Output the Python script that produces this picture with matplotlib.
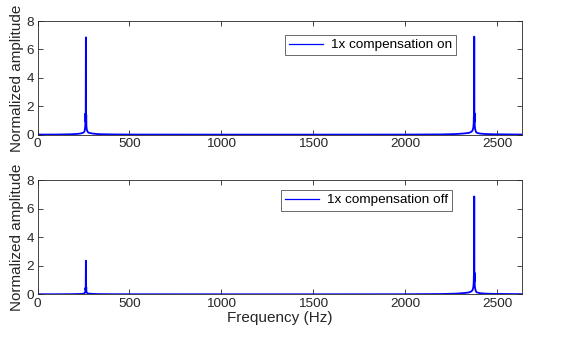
import matplotlib
matplotlib.use("Agg")
import matplotlib.pyplot as plt

plt.rcParams['font.family'] = ['Liberation Sans', 'DejaVu Sans']

# Frequency samples (Hz)
freq_hz = [0, 100, 180, 220, 240, 250, 255, 258, 260, 261, 262, 263, 264, 265, 266, 268,
           271, 276, 285, 300, 330, 400, 500, 1000, 1500, 2000, 2200, 2280, 2320, 2345,
           2358, 2365, 2369, 2371, 2372, 2373, 2374, 2375, 2376, 2377, 2379, 2382, 2386,
           2392, 2405, 2430, 2480, 2550, 2632]

# Normalized amplitude, compensation on
amp_on = [0.01, 0.01, 0.03, 0.06, 0.1, 0.15, 0.22, 0.4, 0.7, 1.5, 0.9, 6.85, 1.1, 1.4, 0.6, 0.35,
          0.25, 0.15, 0.12, 0.08, 0.04, 0.02, 0.01, 0.005, 0.005, 0.008, 0.02, 0.05, 0.09, 0.13,
          0.2, 0.3, 0.5, 0.8, 1.3, 0.7, 6.9, 0.9, 1.5, 0.6, 0.4, 0.25, 0.15,
          0.12, 0.08, 0.05, 0.03, 0.02, 0.01]

# Normalized amplitude, compensation off
amp_off = [0.005, 0.005, 0.01, 0.02, 0.03, 0.05, 0.07, 0.12, 0.2, 0.45, 0.3, 2.35, 0.35, 0.5, 0.2, 0.12,
           0.08, 0.05, 0.04, 0.03, 0.015, 0.008, 0.005, 0.003, 0.003, 0.006, 0.02, 0.05, 0.09, 0.13,
           0.2, 0.3, 0.5, 0.8, 1.3, 0.7, 6.85, 0.9, 1.5, 0.6, 0.4, 0.25, 0.15,
           0.12, 0.08, 0.05, 0.03, 0.02, 0.01]

xticks = [0, 500, 1000, 1500, 2000, 2500]
yticks = [0, 2, 4, 6, 8]

W, H = 563, 338
fig = plt.figure(figsize=(W / 100, H / 100), dpi=100)

def rect(l, t, r, b):
    return [l / W, 1 - b / H, (r - l) / W, (b - t) / H]

ax1 = fig.add_axes(rect(37.5, 21, 521.7, 134.7))
ax2 = fig.add_axes(rect(37.5, 180, 521.7, 294.3))

specs = [(ax1, amp_on, '1x compensation on', (0.864, 0.877)),
         (ax2, amp_off, '1x compensation off', (0.856, 0.9125))]

for ax, amp, lab, anchor in specs:
    ax.plot(freq_hz, amp, color='#0000ff', lw=1.3, label=lab)
    ax.set_xlim(0, 2632)
    ax.set_ylim(0, 8)
    ax.set_xticks(xticks)
    ax.set_yticks(yticks)
    ax.tick_params(direction='in', top=True, right=True, length=3.5, width=0.6,
                   colors='#262626', labelsize=9.7, pad=2.5)
    for s in ax.spines.values():
        s.set_color('#262626')
        s.set_linewidth(0.6)
    ax.set_ylabel('Normalized amplitude', fontsize=11, color='#262626', labelpad=2)
    leg = ax.legend(loc='upper right', bbox_to_anchor=anchor, fontsize=9.7,
                    frameon=True, fancybox=False, edgecolor='#262626',
                    handlelength=2.5, handletextpad=0.6, borderpad=0.3,
                    borderaxespad=0)
    leg.get_frame().set_linewidth(0.6)
    for h in leg.get_lines():
        h.set_linewidth(0.9)

ax2.set_xlabel('Frequency (Hz)', fontsize=11, color='#262626', labelpad=1)

fig.savefig('out.png', dpi=100)
